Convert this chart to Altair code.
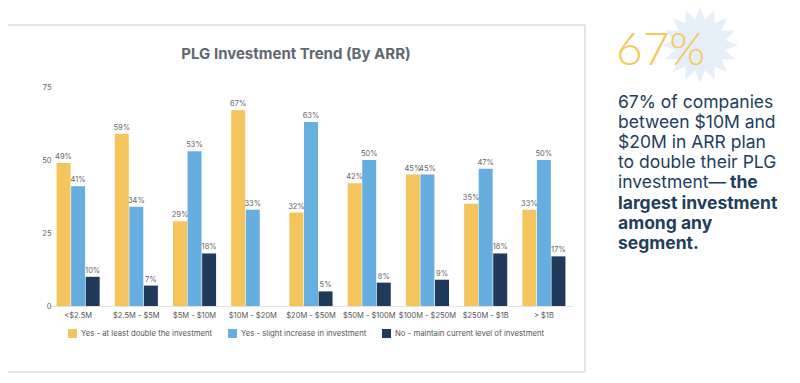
import math
import altair as alt
import pandas as pd

categories = ["<$2.5M", "$2.5M - $5M", "$5M - $10M", "$10M - $20M", "$20M - $50M",
              "$50M - $100M", "$100M - $250M", "$250M - $1B", "> $1B"]
series = ["Yes - at least double the investment",
          "Yes - slight increase in investment",
          "No - maintain current level of investment"]
double_vals = [49, 59, 29, 67, 32, 42, 45, 35, 33]
slight_vals = [41, 34, 53, 33, 63, 50, 45, 47, 50]
maintain_vals = [10, 7, 18, None, 5, 8, 9, 18, 17]
colors = ["#f4c55c", "#67aee0", "#1f3a5a"]

title_text = "PLG Investment Trend (By ARR)"
big_stat = "67%"
body_lines = ["67% of companies", "between $10M and", "$20M in ARR plan",
              "to double their PLG", "investment\u2014"]
bold_inline = "the"
bold_lines = ["largest investment", "among any", "segment."]

rows = []
for s, vals in zip(series, [double_vals, slight_vals, maintain_vals]):
    for c, v in zip(categories, vals):
        if v is not None:
            rows.append({"cat": c, "series": s, "value": v, "label": f"{v}%"})
df = pd.DataFrame(rows)
one = pd.DataFrame({"k": [0]})

W, H = 524, 219
FONT = "Inter"

# starburst decoration path (unit coords)
n_spikes = 16
pts = []
for i in range(n_spikes * 2):
    r = 1.0 if i % 2 == 0 else 0.68
    a = math.pi * i / n_spikes
    pts.append(f"{r * math.sin(a):.3f},{-r * math.cos(a):.3f}")
star_path = "M" + " L".join(pts) + " Z"

yscale = alt.Scale(domain=[0, 75], nice=False)

x_enc = alt.X("cat:N", sort=categories,
              scale=alt.Scale(paddingInner=0.26, paddingOuter=0.13),
              axis=alt.Axis(title=None, labelAngle=0, labelFontSize=7.5, labelColor="#555555",
                            labelFont=FONT, ticks=False, domainColor="#e2e2e2",
                            labelPadding=5))
xo_enc = alt.XOffset("series:N", sort=series, scale=alt.Scale(domain=series, paddingInner=0.04))
y_enc = alt.Y("value:Q", scale=yscale,
              axis=alt.Axis(title=None, values=[0, 25, 50, 75], grid=False, domain=False,
                            ticks=False, labelFontSize=7.5, labelColor="#666666",
                            labelFont=FONT, labelPadding=-2))

BTOP, BBOT, BL, BR = -62, 285, -42, 536
BORDER = dict(stroke="#e1e6ec", strokeWidth=2)
border_top = alt.Chart(one).mark_rule(**BORDER).encode(
    x=alt.value(BL), x2=alt.value(BR), y=alt.value(BTOP))
border_bottom = alt.Chart(one).mark_rule(**BORDER).encode(
    x=alt.value(BL), x2=alt.value(BR), y=alt.value(BBOT))
border_left = alt.Chart(one).mark_rule(**BORDER).encode(
    x=alt.value(BL), y=alt.value(BTOP), y2=alt.value(BBOT))
border_right = alt.Chart(one).mark_rule(**BORDER).encode(
    x=alt.value(BR), y=alt.value(BTOP), y2=alt.value(BBOT))

bars = alt.Chart(df).mark_bar().encode(
    x=x_enc, xOffset=xo_enc, y=y_enc,
    color=alt.Color("series:N", sort=series,
                    scale=alt.Scale(domain=series, range=colors),
                    legend=alt.Legend(title=None, orient="none", legendX=19, legendY=242,
                                      direction="horizontal", symbolType="square",
                                      symbolSize=81, symbolStrokeWidth=0,
                                      labelFontSize=7.75, labelColor="#555555",
                                      labelFont=FONT, columnPadding=15, labelLimit=300)))

labels = alt.Chart(df).mark_text(baseline="bottom", dy=-2, fontSize=7.5, color="#666666",
                                 font=FONT).encode(
    x=alt.X("cat:N", sort=categories), xOffset=alt.XOffset("series:N", sort=series),
    y=alt.Y("value:Q", scale=yscale), text="label:N")

title = alt.Chart(one).mark_text(text=title_text, fontSize=15, fontWeight="bold",
                                 color="#5f6870", font=FONT, align="center",
                                 baseline="alphabetic").encode(
    x=alt.value(247), y=alt.value(-28))

star = alt.Chart(one).mark_point(shape=star_path, size=5776, filled=True,
                                 color="#e6eef7", opacity=1).encode(
    x=alt.value(651), y=alt.value(-42))

stat = alt.Chart(one).mark_text(text=big_stat, fontSize=46, fontWeight=300, color="#f5c757",
                                font="Lato", align="left", baseline="alphabetic").encode(
    x=alt.value(567), y=alt.value(-22))

LINE0, STEP, FS = 21, 20.1, 17.5
text_props = dict(fontSize=FS, color="#233d5c", font=FONT, align="left", baseline="alphabetic")

layers = [border_top, border_bottom, border_left, border_right, bars, labels, title, star, stat]
for i, t in enumerate(body_lines):
    layers.append(alt.Chart(one).mark_text(text=t, **text_props).encode(
        x=alt.value(569), y=alt.value(LINE0 + i * STEP)))
for j, t in enumerate(bold_lines):
    i = len(body_lines) + j
    layers.append(alt.Chart(one).mark_text(text=t, fontWeight="bold", **text_props).encode(
        x=alt.value(569), y=alt.value(LINE0 + i * STEP)))
layers.append(alt.Chart(one).mark_text(text=bold_inline, fontWeight="bold", **text_props).encode(
    x=alt.value(681), y=alt.value(LINE0 + 4 * STEP)))

chart = alt.layer(*layers).properties(
    width=W, height=H,
    padding={"left": 41, "top": 79, "right": 219, "bottom": 69},
    autosize=alt.AutoSizeParams(type="none"),
    background="white",
).configure_view(stroke=None)

chart.save("out.html", embed_options={"renderer": "svg", "actions": False})
